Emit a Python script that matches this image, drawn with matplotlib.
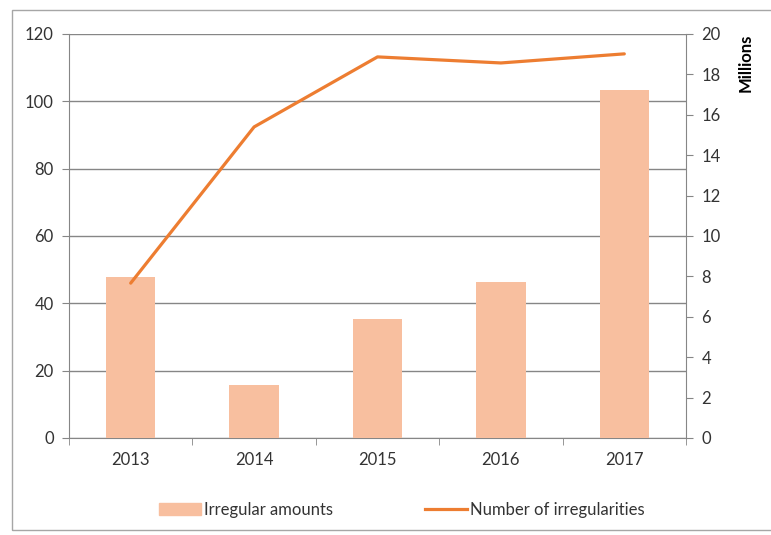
import numpy as np
import matplotlib.pyplot as plt
from matplotlib.patches import Rectangle

plt.rcParams['font.family'] = ['Lato', 'DejaVu Sans']

# data
years = ['2013', '2014', '2015', '2016', '2017']
irregular_amounts = [7.95, 2.62, 5.9, 7.72, 17.24]      # millions, right axis
num_irregularities = [46, 92.4, 113.2, 111.4, 114.1]     # left axis

grey = '#868686'
bar_color = '#F8BF9F'
line_color = '#ED7D31'

fig = plt.figure(figsize=(7.71, 5.35), dpi=100)
fig.patches.append(Rectangle((12 / 771, 5 / 535), 1, 1 - 15 / 535, transform=fig.transFigure,
                             fill=False, edgecolor='#A6A6A6', lw=1))

pos = [69 / 771, 1 - 438 / 535, (686 - 69) / 771, (438 - 34) / 535]
x = np.arange(len(years))

# bottom layer: left scale, gridlines
ax = fig.add_axes(pos)
ax.set_ylim(0, 120)
ax.set_yticks(range(0, 121, 20))
ax.set_xlim(-0.5, len(years) - 0.5)
ax.grid(axis='y', color=grey, lw=1)
ax.set_axisbelow(True)
ax.set_xticks(x)
ax.set_xticklabels(years)
ax.set_xticks(np.arange(-0.5, len(years)), minor=True)
ax.tick_params(axis='x', which='major', length=0, pad=10)
ax.tick_params(axis='x', which='minor', length=5, color=grey, direction='out')
ax.tick_params(axis='y', length=5, color=grey, pad=6)
ax.tick_params(labelsize=12, labelcolor='#333333')
for s in ['top', 'right']:
    ax.spines[s].set_visible(False)
for s in ['left', 'bottom']:
    ax.spines[s].set_color(grey)

# middle layer: bars on right scale
ax2 = ax.twinx()
ax2.bar(x, irregular_amounts, width=0.4, color=bar_color, zorder=2)
ax2.set_ylim(0, 20)
ax2.set_yticks(range(0, 21, 2))
ax2.tick_params(axis='y', length=5, color=grey, labelsize=12, labelcolor='#333333', pad=6)
for s in ['top', 'left', 'bottom']:
    ax2.spines[s].set_visible(False)
ax2.spines['right'].set_color(grey)
ax2.text(1.097, 1.0, 'Millions', transform=ax2.transAxes, rotation=90,
         ha='center', va='top', fontsize=12, fontweight='bold', color='black')

# top layer: line on left scale
ax3 = fig.add_axes(pos, sharex=ax, sharey=ax, frameon=False)
ax3.plot(x, num_irregularities, color=line_color, lw=2.3, solid_capstyle='round')
ax3.axis('off')

handles = [Rectangle((0, 0), 1, 1, color=bar_color),
           plt.Line2D([], [], color=line_color, lw=2.3)]
fig.legend(handles, ['Irregular amounts', 'Number of irregularities'], loc='center',
           bbox_to_anchor=(402 / 771, 1 - 510 / 535), ncol=2, frameon=False,
           fontsize=12, handlelength=2.5, handletextpad=0.2, columnspacing=5.5,
           labelcolor='#333333')

fig.savefig('out.png', dpi=100)
